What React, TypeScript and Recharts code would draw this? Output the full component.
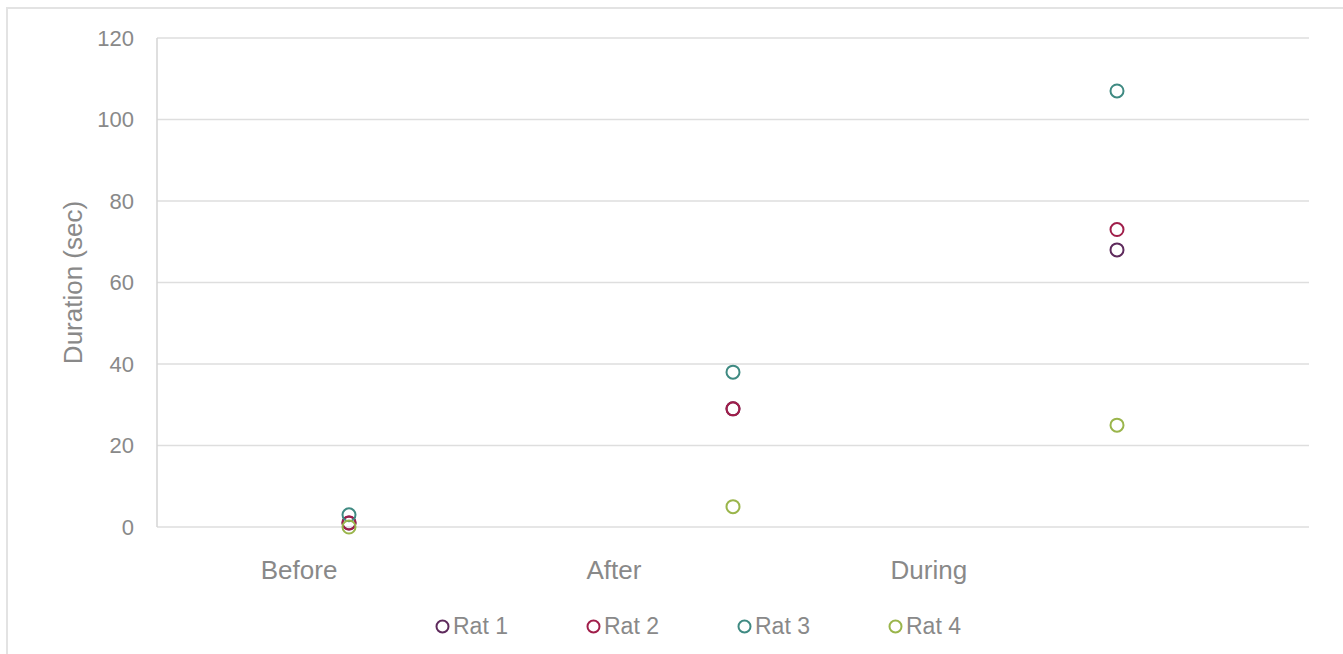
import React from "react";
import {
  ScatterChart,
  Scatter,
  XAxis,
  YAxis,
  CartesianGrid,
  Legend,
} from "recharts";

// x positions of the three sessions on the value axis
const sessionX = [1, 2, 3];
const categories = ["Before", "After", "During"];
// where Excel drew the category text on the axis
const categoryTickX = [0.87, 1.69, 2.51];
const yTicks = [0, 20, 40, 60, 80, 100, 120];

const ratNames = ["Rat 1", "Rat 2", "Rat 3", "Rat 4"];
const rat1 = [1, 29, 68];
const rat2 = [1, 29, 73];
const rat3 = [3, 38, 107];
const rat4 = [0, 5, 25];

const RAT_COLORS = ["#5E2A5C", "#A01E4A", "#3F8A82", "#9AB54B"];
const TEXT = "#898989";
const GRID = "#dedede";
const FONT = '"Liberation Sans", Arial, sans-serif';

const series = [rat1, rat2, rat3, rat4].map((vals, i) => ({
  name: ratNames[i],
  color: RAT_COLORS[i],
  data: vals.map((v, j) => ({ x: sessionX[j], y: v })),
}));

const Ring = (color: string) => (props: any) => {
  const { cx, cy } = props;
  if (cx == null || cy == null) return null;
  return <circle cx={cx} cy={cy} r={6.5} fill="none" stroke={color} strokeWidth={2} />;
};

const LegendBox = () => (
  <div style={{ position: "relative", height: 40, fontFamily: FONT }}>
    {series.map((s, i) => (
      <div
        key={s.name}
        style={{
          position: "absolute",
          left: 435 + i * 151,
          top: 0,
          height: 24,
          display: "flex",
          alignItems: "center",
          fontSize: 23,
          color: TEXT,
        }}
      >
        <svg width={15} height={15} style={{ marginRight: 3 }}>
          <circle cx={7.5} cy={7.5} r={6} fill="none" stroke={s.color} strokeWidth={2} />
        </svg>
        {s.name}
      </div>
    ))}
  </div>
);

const YTitle = (props: any) => {
  const vb = props.viewBox || { y: 38, height: 489 };
  const cx = 73;
  const cy = vb.y + vb.height / 2;
  return (
    <text
      x={cx}
      y={cy}
      transform={`rotate(-90, ${cx}, ${cy})`}
      textAnchor="middle"
      dominantBaseline="central"
      fontSize={26}
      fill={TEXT}
      fontFamily={FONT}
    >
      Duration (sec)
    </text>
  );
};

export default function App() {
  return (
    <div
      style={{
        position: "absolute",
        left: 0,
        top: 0,
        width: 1343,
        height: 654,
        background: "#fff",
        overflow: "hidden",
      }}
    >
      <div
        style={{
          position: "absolute",
          left: 6,
          top: 7,
          width: 1400,
          height: 700,
          border: "2px solid #e3e3e3",
          boxSizing: "border-box",
        }}
      />
      <div style={{ position: "absolute", left: 0, top: 0 }}>
        <ScatterChart
          width={1343}
          height={654}
          margin={{ top: 38, right: 34, left: 0, bottom: 0 }}
          style={{ fontFamily: FONT }}
        >
          <CartesianGrid horizontal vertical={false} stroke={GRID} strokeWidth={1.5} />
          <XAxis
            type="number"
            dataKey="x"
            domain={[0.5, 3.5]}
            ticks={categoryTickX}
            tickFormatter={(_v, i) => categories[i]}
            axisLine={false}
            tickLine={false}
            tickSize={0}
            tickMargin={34}
            height={87}
            interval={0}
            tick={{ fontSize: 26, fill: TEXT, fontFamily: FONT }}
          />
          <YAxis
            type="number"
            dataKey="y"
            domain={[0, 120]}
            ticks={yTicks}
            width={157}
            axisLine={{ stroke: "#d4d4d4", strokeWidth: 1.5 }}
            tickLine={false}
            tickSize={0}
            tickMargin={23}
            tick={{ fontSize: 22, fill: TEXT, fontFamily: FONT }}
            label={<YTitle />}
          />
          <Legend verticalAlign="bottom" height={40} content={<LegendBox />} />
          {series.map((s) => (
            <Scatter
              key={s.name}
              name={s.name}
              data={s.data}
              fill={s.color}
              shape={Ring(s.color)}
              isAnimationActive={false}
            />
          ))}
        </ScatterChart>
      </div>
    </div>
  );
}
